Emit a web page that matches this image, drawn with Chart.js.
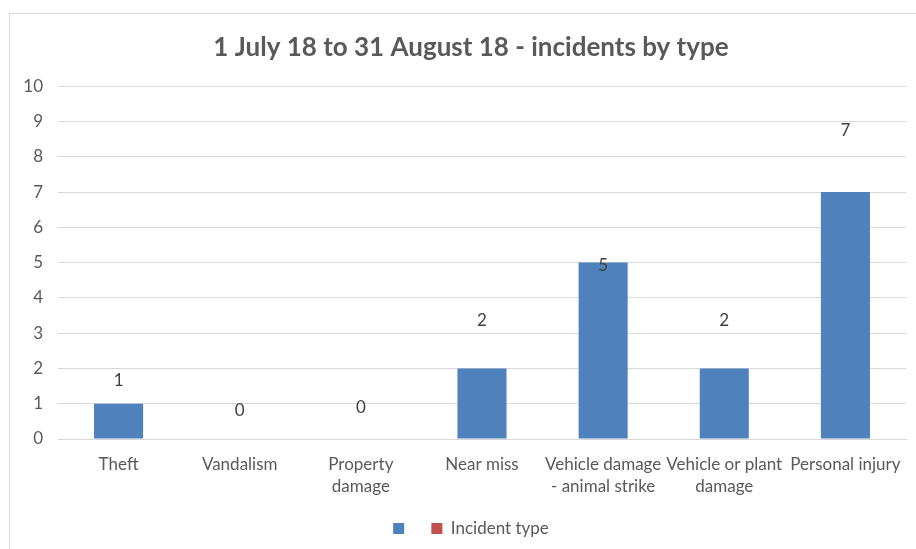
<!DOCTYPE html>
<html>
<head>
<meta charset="utf-8">
<script src="https://cdn.jsdelivr.net/npm/chart.js@4.4.1/dist/chart.umd.min.js"></script>
<style>
  html, body { margin: 0; padding: 0; background: #ffffff; }
  #wrap { width: 916px; height: 549px; position: relative; }
</style>
</head>
<body>
<div id="wrap"><canvas id="chart" width="916" height="549"></canvas></div>
<script>
// Incident categories and counts for the reporting period
const categories = [
  'Theft',
  'Vandalism',
  ['Property', 'damage'],
  'Near miss',
  ['Vehicle damage', '- animal strike'],
  ['Vehicle or plant', 'damage'],
  'Personal injury'
];
const incidentCounts = [1, 0, 0, 2, 5, 2, 7];
const typeSeries = [null, null, null, null, null, null, null];
const yTicks = [0, 1, 2, 3, 4, 5, 6, 7, 8, 9, 10];

const FONT = 'Lato, "Open Sans", sans-serif';

// Light frame around the whole chart
const framePlugin = {
  id: 'frame',
  beforeDraw(chart) {
    const ctx = chart.ctx;
    ctx.save();
    ctx.strokeStyle = '#d9d9d9';
    ctx.lineWidth = 1;
    ctx.strokeRect(9.5, 13.5, chart.width + 10, chart.height + 10);
    ctx.restore();
  }
};

// Centre title and legend over the frame rather than the whole canvas
const centreBlocks = {
  id: 'centreBlocks',
  afterLayout(chart, args, opts) {
    [chart.titleBlock, chart.legend].forEach(box => {
      if (box) { box.left += opts.shift; box.right += opts.shift; }
    });
  }
};

// Value labels above each bar
const valueLabels = {
  id: 'valueLabels',
  afterDatasetsDraw(chart, args, opts) {
    const ctx = chart.ctx;
    const meta = chart.getDatasetMeta(0);
    ctx.save();
    ctx.font = opts.font;
    ctx.fillStyle = opts.color;
    ctx.textAlign = 'center';
    ctx.textBaseline = 'middle';
    meta.data.forEach((bar, i) => {
      const v = chart.data.datasets[0].data[i];
      ctx.fillText(String(v), bar.x, bar.y - opts.raise[i]);
    });
    ctx.restore();
  }
};

new Chart(document.getElementById('chart'), {
  type: 'bar',
  data: {
    labels: categories,
    datasets: [
      {
        label: '  ',
        data: incidentCounts,
        backgroundColor: '#4f81bd',
        borderWidth: 0,
        grouped: false,
        categoryPercentage: 1,
        barPercentage: 0.405
      },
      {
        label: 'Incident type',
        data: typeSeries,
        backgroundColor: '#c0504d',
        borderWidth: 0,
        grouped: false
      }
    ]
  },
  options: {
    responsive: false,
    animation: false,
    layout: { padding: { left: 0, right: 10, top: 0, bottom: 2 } },
    plugins: {
      title: {
        display: true,
        text: '1 July 18 to 31 August 18 - incidents by type',
        color: '#595959',
        font: { family: FONT, size: 26, weight: 'bold', lineHeight: 1.2 },
        padding: { top: 32, bottom: 23 }
      },
      legend: {
        position: 'bottom',
        labels: {
          color: '#595959',
          font: { family: FONT, size: 17 },
          boxWidth: 11,
          boxHeight: 11,
          padding: 10
        }
      },
      tooltip: { enabled: false },
      centreBlocks: { shift: 18 },
      valueLabels: {
        font: '17px ' + FONT,
        color: '#404040',
        raise: [23, 28, 31, 48, -3, 48, 62]
      }
    },
    scales: {
      x: {
        afterFit(scale) { scale.height = 71; },
        grid: { display: false },
        border: { display: true, color: '#d9d9d9' },
        ticks: {
          color: '#595959',
          font: { family: FONT, size: 17, lineHeight: 1.3 },
          padding: 6,
          maxRotation: 0,
          autoSkip: false
        }
      },
      y: {
        min: 0,
        max: 10,
        afterBuildTicks(scale) { scale.ticks = yTicks.map(v => ({ value: v })); },
        afterFit(scale) { scale.width = 58; },
        grid: { color: '#d9d9d9', drawTicks: false },
        border: { display: false },
        ticks: {
          color: '#595959',
          font: { family: FONT, size: 17 },
          padding: 15
        }
      }
    }
  },
  plugins: [framePlugin, centreBlocks, valueLabels]
});
</script>
</body>
</html>
